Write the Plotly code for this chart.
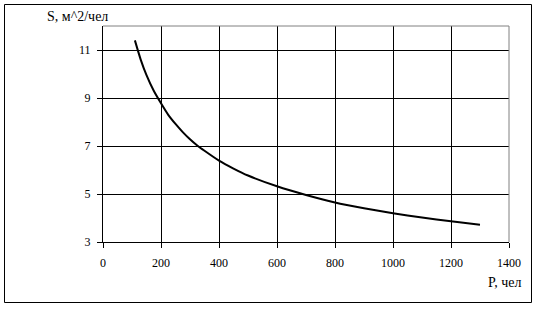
import plotly.graph_objects as go

# Data
P = [110, 130, 150, 175, 200, 225, 250, 275, 300, 325, 350, 400, 450, 500, 600, 700, 800, 900, 1000, 1100, 1200, 1300]
S = [11.4, 10.6, 9.95, 9.3, 8.78, 8.3, 7.92, 7.58, 7.28, 7.02, 6.8, 6.39, 6.06, 5.77, 5.32, 4.96, 4.65, 4.41, 4.2, 4.02, 3.86, 3.72]
x_ticks = [0, 200, 400, 600, 800, 1000, 1200, 1400]
y_ticks = [3, 5, 7, 9, 11]
x_title = "P, чел"
y_title = "S, м^2/чел"

W, H = 539, 310
L, R, T, B = 103, 30, 26, 68
pw, ph = W - L - R, H - T - B

def px_x(px):
    return (px - L) / pw

def px_y(py):
    return (H - B - py) / ph

font = dict(family="Times New Roman", size=12, color="black")
title_font = dict(family="Times New Roman", size=14, color="black")

fig = go.Figure()
fig.add_trace(go.Scatter(x=P, y=S, mode="lines", line=dict(color="black", width=2, shape="spline", smoothing=0.6),
                         showlegend=False, hoverinfo="skip"))

fig.update_xaxes(range=[0, 1400], tickvals=x_ticks, ticktext=[str(v) for v in x_ticks],
                 showgrid=True, gridcolor="black", gridwidth=1,
                 showline=True, linecolor="black", linewidth=1,
                 ticks="outside", ticklen=5, tickcolor="black", tickwidth=1,
                 zeroline=False, tickfont=font, ticklabelstandoff=5)
fig.update_yaxes(range=[3, 12], tickvals=y_ticks, ticktext=[str(v) for v in y_ticks],
                 showgrid=True, gridcolor="black", gridwidth=1,
                 showline=True, linecolor="black", linewidth=1,
                 ticks="outside", ticklen=5, tickcolor="black", tickwidth=1,
                 zeroline=False, tickfont=font, ticklabelstandoff=4)

shapes = [
    dict(type="line", xref="paper", yref="paper", x0=0, x1=1, y0=1, y1=1,
         line=dict(color="#808080", width=1), layer="above"),
    dict(type="line", xref="paper", yref="paper", x0=1, x1=1, y0=0, y1=1,
         line=dict(color="#808080", width=1), layer="above"),
    dict(type="rect", xref="paper", yref="paper",
         x0=px_x(4.5), x1=px_x(531.5), y0=px_y(302.5), y1=px_y(4.5),
         line=dict(color="black", width=1), fillcolor="rgba(0,0,0,0)", layer="below"),
]

annotations = [
    dict(text=y_title, xref="paper", yref="paper", x=px_x(45), y=px_y(17),
         xanchor="left", yanchor="middle", showarrow=False, font=title_font),
    dict(text=x_title, xref="paper", yref="paper", x=px_x(523), y=px_y(282),
         xanchor="right", yanchor="middle", showarrow=False, font=title_font),
]

fig.update_layout(width=W, height=H, margin=dict(l=L, r=R, t=T, b=B),
                  paper_bgcolor="white", plot_bgcolor="white",
                  shapes=shapes, annotations=annotations, font=font)

fig.write_html("out.html")
